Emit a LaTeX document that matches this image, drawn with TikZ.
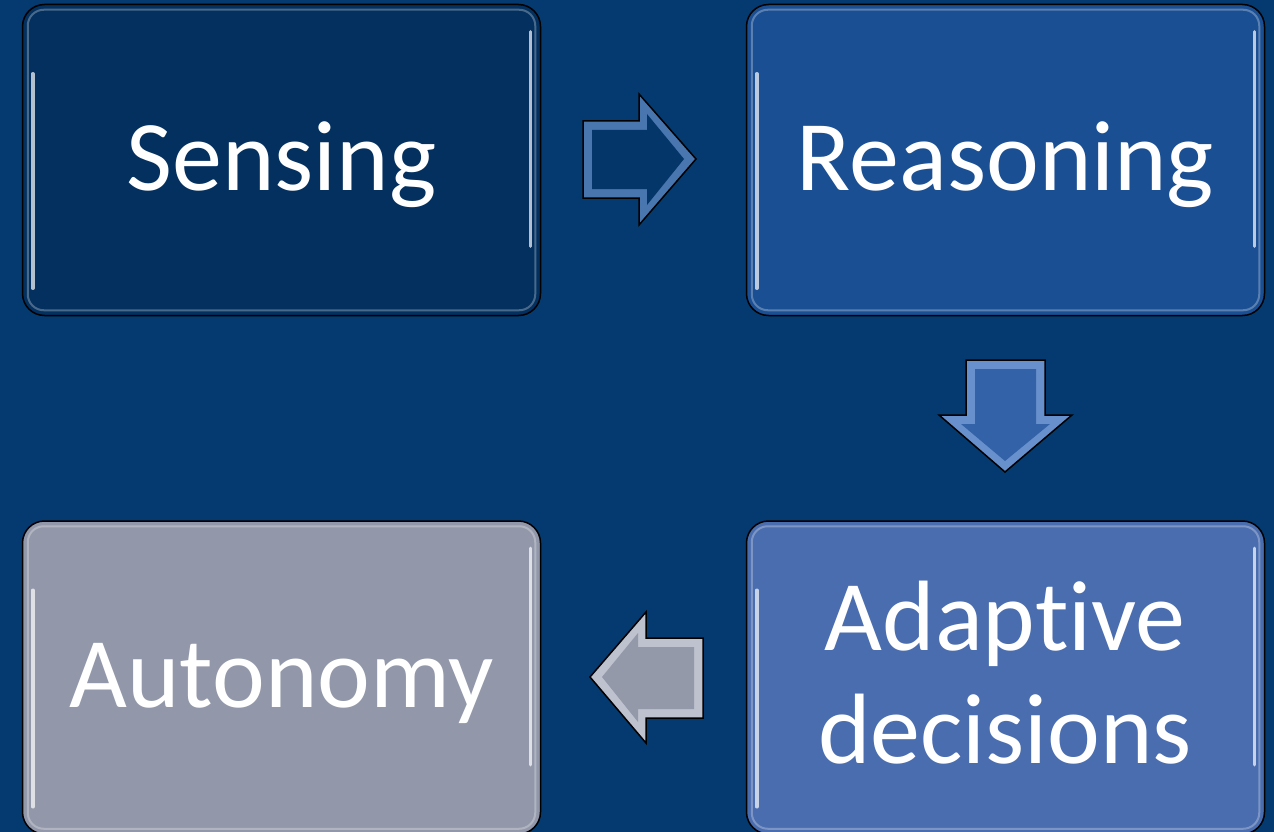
\documentclass[tikz,border=0pt]{standalone}
\usepackage{fontspec}
\setmainfont{Carlito}[Ligatures=NoCommon]
\usetikzlibrary{calc}
\definecolor{bg}{HTML}{043A6F}
\definecolor{csens}{HTML}{03305F}
\definecolor{creas}{HTML}{1B4F93}
\definecolor{cadap}{HTML}{4A6DAF}
\definecolor{cauto}{HTML}{9298A9}
\definecolor{arA}{HTML}{05366A}
\definecolor{arAb}{HTML}{4A76B0}
\definecolor{arB}{HTML}{3462A8}
\definecolor{arBb}{HTML}{6890CC}
\definecolor{arC}{HTML}{9499AA}
\definecolor{arCb}{HTML}{BEC2CE}
\tikzset{
  box/.style={draw=black, line width=1.5pt, rounded corners=22pt,
    minimum width=518pt, inner sep=0pt},
  shine/.style={draw=white, draw opacity=0.28, line width=2pt, rounded corners=16pt},
  streak/.style={draw=white, draw opacity=0.7, line width=3.5pt, line cap=round},
  lbl/.style={text=white, font=\fontsize{100}{113}\selectfont, anchor=base, inner sep=0pt},
  arrowout/.style={draw=black, line width=1.5pt, line join=miter},
}
\begin{document}
\begin{tikzpicture}[x=1pt,y=-1pt]
\useasboundingbox (0,0) rectangle (1274,832);
\clip (0,0) rectangle (1274,832);
\fill[bg] (0,0) rectangle (1274,832);

% boxes
\node[box, fill=csens, minimum height=311pt] (sense) at (281.5,160) {};
\node[box, fill=creas, minimum height=311pt] (reas) at (1005.5,160) {};
\node[box, fill=cadap, minimum height=313pt] (adap) at (1005.5,677.5) {};
\node[box, fill=cauto, minimum height=313pt] (auto) at (281.5,677.5) {};

% bevel highlights
\foreach \b in {sense,reas,adap,auto}{
  \draw[shine] ($(\b.north west)+(6,6)$) rectangle ($(\b.south east)+(-6,-6)$);
  \draw[streak] ($(\b.north west)+(11,70)$) -- ($(\b.south west)+(11,-28)$);
  \draw[streak] ($(\b.north east)+(-11,28)$) -- ($(\b.south east)+(-11,-70)$);
}

% labels
\node[lbl] (tsense) at ($(sense.center)+(0,30)$) {Sensing};
\node[lbl] (treas) at ($(reas.center)+(0,30)$) {Reasoning};
\node[lbl] (tadap1) at (1005,650) {Adaptive};
\node[lbl] (tadap2) at (1005,763) {decisions};
\node[lbl] (tauto) at ($(auto.center)+(0,29.5)$) {Autonomy};

% right arrow (Sensing -> Reasoning)
\fill[arAb] (583,121) -- (639,121) -- (639,94) -- (696,159) -- (639,225) -- (639,198) -- (583,198) -- cycle;
\fill[arA] (592,130) -- (647,130) -- (647,114) -- (684,159) -- (647,205) -- (647,189) -- (592,189) -- cycle;
\draw[arrowout] (583,121) -- (639,121) -- (639,94) -- (696,159) -- (639,225) -- (639,198) -- (583,198) -- cycle;

% down arrow (Reasoning -> Adaptive)
\fill[arBb] (966,360) -- (1045,360) -- (1045,415) -- (1072,415) -- (1005,472) -- (939,415) -- (966,415) -- cycle;
\fill[arB] (975,369) -- (1036,369) -- (1036,424) -- (1050,424) -- (1005,461) -- (961,424) -- (975,424) -- cycle;
\draw[arrowout] (966,360) -- (1045,360) -- (1045,415) -- (1072,415) -- (1005,472) -- (939,415) -- (966,415) -- cycle;

% left arrow (Adaptive -> Autonomy)
\fill[arCb] (703,638) -- (646,638) -- (646,612) -- (590,677) -- (646,743) -- (646,718) -- (703,718) -- cycle;
\fill[arC] (694,647) -- (638,647) -- (638,633) -- (602,677) -- (638,722) -- (638,709) -- (694,709) -- cycle;
\draw[arrowout] (703,638) -- (646,638) -- (646,612) -- (590,677) -- (646,743) -- (646,718) -- (703,718) -- cycle;
\end{tikzpicture}
\end{document}
